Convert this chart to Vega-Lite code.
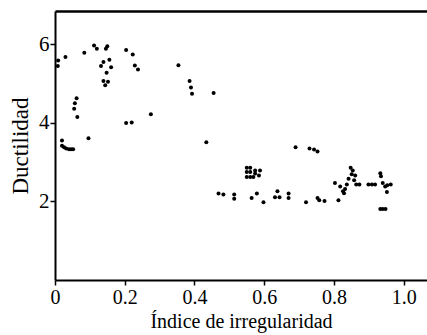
{
  "$schema": "https://vega.github.io/schema/vega-lite/v6.json",
  "width": 372,
  "height": 269,
  "autosize": {"type": "none"},
  "padding": {"left": 55, "top": 11, "right": 0, "bottom": 55},
  "background": "white",
  "config": {
    "view": {"stroke": null},
    "font": "Liberation Serif",
    "axis": {
      "domainColor": "black", "domainWidth": 2, "tickColor": "black", "tickWidth": 1.5,
      "labelColor": "black", "titleColor": "black", "grid": false,
      "titleFontWeight": "normal"
    }
  },
  "data": {"values": [
    {"x": 0.009, "y": 5.59}, {"x": 0.008, "y": 5.45}, {"x": 0.030, "y": 5.68},
    {"x": 0.020, "y": 3.55}, {"x": 0.020, "y": 3.42}, {"x": 0.026, "y": 3.38}, {"x": 0.032, "y": 3.35}, {"x": 0.040, "y": 3.33}, {"x": 0.046, "y": 3.33}, {"x": 0.052, "y": 3.33},
    {"x": 0.055, "y": 4.36}, {"x": 0.057, "y": 4.50}, {"x": 0.062, "y": 4.63}, {"x": 0.064, "y": 4.15},
    {"x": 0.084, "y": 5.79}, {"x": 0.096, "y": 3.61}, {"x": 0.112, "y": 5.97}, {"x": 0.120, "y": 5.89},
    {"x": 0.132, "y": 5.45}, {"x": 0.139, "y": 5.55}, {"x": 0.146, "y": 5.89}, {"x": 0.150, "y": 5.95}, {"x": 0.139, "y": 5.07}, {"x": 0.144, "y": 4.96}, {"x": 0.152, "y": 5.05}, {"x": 0.148, "y": 5.28}, {"x": 0.156, "y": 5.61}, {"x": 0.161, "y": 5.42},
    {"x": 0.204, "y": 5.86}, {"x": 0.223, "y": 5.74}, {"x": 0.229, "y": 5.46}, {"x": 0.238, "y": 5.36}, {"x": 0.204, "y": 4.00}, {"x": 0.220, "y": 4.01}, {"x": 0.275, "y": 4.22},
    {"x": 0.354, "y": 5.47}, {"x": 0.386, "y": 5.07}, {"x": 0.390, "y": 4.90}, {"x": 0.393, "y": 4.74}, {"x": 0.434, "y": 3.51}, {"x": 0.455, "y": 4.76},
    {"x": 0.690, "y": 3.38}, {"x": 0.730, "y": 3.35}, {"x": 0.743, "y": 3.32}, {"x": 0.753, "y": 3.27},
    {"x": 0.550, "y": 2.86}, {"x": 0.560, "y": 2.86}, {"x": 0.550, "y": 2.75}, {"x": 0.560, "y": 2.75}, {"x": 0.550, "y": 2.62}, {"x": 0.560, "y": 2.62}, {"x": 0.569, "y": 2.62}, {"x": 0.574, "y": 2.79}, {"x": 0.574, "y": 2.71}, {"x": 0.588, "y": 2.79}, {"x": 0.585, "y": 2.66},
    {"x": 0.469, "y": 2.20}, {"x": 0.483, "y": 2.18}, {"x": 0.514, "y": 2.18}, {"x": 0.514, "y": 2.07},
    {"x": 0.564, "y": 2.09}, {"x": 0.579, "y": 2.20}, {"x": 0.598, "y": 1.98},
    {"x": 0.631, "y": 2.11}, {"x": 0.638, "y": 2.26}, {"x": 0.644, "y": 2.11}, {"x": 0.670, "y": 2.20}, {"x": 0.670, "y": 2.09},
    {"x": 0.720, "y": 1.98}, {"x": 0.753, "y": 2.09}, {"x": 0.758, "y": 2.03}, {"x": 0.773, "y": 2.01}, {"x": 0.813, "y": 2.03},
    {"x": 0.803, "y": 2.47}, {"x": 0.818, "y": 2.38}, {"x": 0.826, "y": 2.26}, {"x": 0.832, "y": 2.32}, {"x": 0.829, "y": 2.21},
    {"x": 0.837, "y": 2.43}, {"x": 0.842, "y": 2.58}, {"x": 0.848, "y": 2.86}, {"x": 0.854, "y": 2.79}, {"x": 0.851, "y": 2.69}, {"x": 0.861, "y": 2.66}, {"x": 0.858, "y": 2.54}, {"x": 0.864, "y": 2.43}, {"x": 0.873, "y": 2.43},
    {"x": 0.899, "y": 2.43}, {"x": 0.909, "y": 2.43}, {"x": 0.918, "y": 2.43},
    {"x": 0.933, "y": 2.72}, {"x": 0.935, "y": 2.64}, {"x": 0.940, "y": 2.47}, {"x": 0.947, "y": 2.38}, {"x": 0.953, "y": 2.41}, {"x": 0.963, "y": 2.43}, {"x": 0.952, "y": 2.24},
    {"x": 0.933, "y": 1.81}, {"x": 0.940, "y": 1.81}, {"x": 0.948, "y": 1.81}
  ]},
  "resolve": {"axis": {"x": "independent"}},
  "layer": [
    {
      "mark": {"type": "circle", "color": "black", "opacity": 1, "size": 16},
      "encoding": {
        "x": {
          "field": "x", "type": "quantitative",
          "scale": {"domain": [0, 1.067], "nice": false, "zero": false},
          "axis": {"orient": "bottom", "title": "Índice de irregularidad", "values": [0, 0.2, 0.4, 0.6, 0.8, 1.0],
            "labelExpr": "datum.value == 0 ? '0' : format(datum.value, '.1f')",
            "labelFont": "Liberation Serif", "labelFontSize": 20, "labelFontWeight": "normal",
            "titleFont": "Liberation Serif", "titleFontSize": 20,
            "tickSize": 5, "labelPadding": 2, "titlePadding": 4, "labelFlush": false}
        },
        "y": {
          "field": "y", "type": "quantitative",
          "scale": {"domain": [0, 6.85], "nice": false},
          "axis": {"title": "Ductilidad", "values": [2, 4, 6], "tickSize": 5, "labelPadding": 1, "titlePadding": 6,
            "labelFont": "Liberation Serif", "labelFontSize": 21,
            "titleFont": "Liberation Serif", "titleFontSize": 23}
        }
      }
    },
    {
      "mark": {"type": "circle", "opacity": 0},
      "encoding": {
        "x": {
          "field": "x", "type": "quantitative",
          "axis": {"orient": "top", "title": null, "labels": false, "ticks": false, "domainWidth": 2.5}
        }
      }
    }
  ]
}
